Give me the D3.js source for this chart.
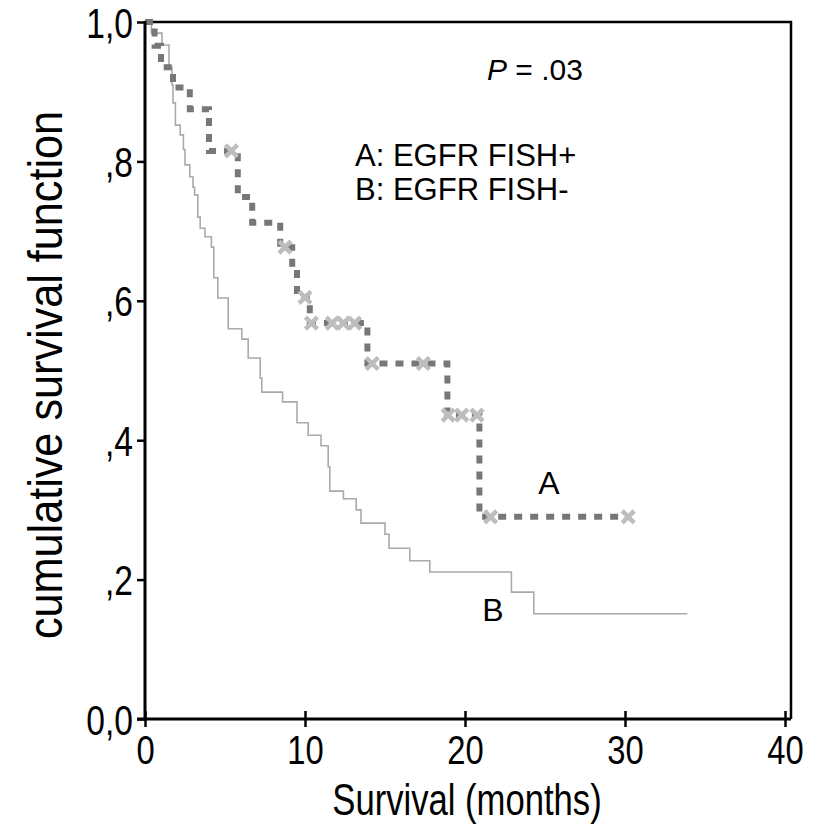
<!DOCTYPE html>
<html>
<head>
<meta charset="utf-8">
<script src="https://cdn.jsdelivr.net/npm/d3@7"></script>
<style>
  html, body { margin: 0; padding: 0; background: #fff; }
  svg { display: block; }
  text { font-family: "Liberation Sans", Arial, sans-serif; fill: #000; }
</style>
</head>
<body>
<svg id="chart" width="823" height="832"></svg>
<script>
// ---- data ----
const xTicks = [0, 10, 20, 30, 40];
const yTicks = [0, 0.2, 0.4, 0.6, 0.8, 1.0];
const yTickLabels = ["0,0", ",2", ",4", ",6", ",8", "1,0"];

// Group A: EGFR FISH+ (event times and survival after each step)
const timesA = [0, 0.6, 1.0, 1.75, 2.8, 4.0, 5.8, 6.7, 8.45, 9.2, 9.5, 10.3, 13.9, 18.9, 20.9, 30.2];
const survA  = [1.0, 0.966, 0.935, 0.906, 0.875, 0.815, 0.749, 0.712, 0.677, 0.645, 0.605, 0.568, 0.510, 0.436, 0.290, 0.290];
const censorA = [5.4, 8.75, 10.0, 10.4, 11.7, 12.4, 13.1, 14.2, 17.4, 18.95, 19.8, 20.75, 21.6, 30.2];

// Group B: EGFR FISH-
const timesB = [0, 0.4, 1.06, 1.5, 1.69, 1.75, 1.9, 2.2, 2.4, 2.5, 2.8, 3.0, 3.1, 3.3, 3.45, 3.75, 4.15, 4.3, 4.55, 5.2, 6.05, 6.45, 7.2, 7.3, 8.6, 9.5, 10.2, 11.0, 11.45, 11.55, 12.4, 13.2, 13.5, 15.0, 15.25, 16.55, 17.8, 22.9, 24.3, 33.9];
const survB  = [1.0, 0.984, 0.967, 0.935, 0.910, 0.884, 0.852, 0.838, 0.817, 0.795, 0.778, 0.763, 0.752, 0.720, 0.704, 0.692, 0.677, 0.633, 0.604, 0.560, 0.545, 0.518, 0.489, 0.469, 0.455, 0.425, 0.407, 0.392, 0.362, 0.327, 0.316, 0.300, 0.281, 0.265, 0.245, 0.227, 0.211, 0.182, 0.151, 0.151];

// ---- layout ----
const svg = d3.select("#chart");
const x = d3.scaleLinear().domain([0, 40]).range([145, 785]);
const y = d3.scaleLinear().domain([0, 1]).range([719, 22]);

// frame (top and right)
svg.append("path")
  .attr("d", `M${x(0)},${y(1)}H${x(40) + 6}V${y(0)}`)
  .attr("fill", "none").attr("stroke", "#000").attr("stroke-width", 2.5);

// ---- curves ----
const stepLine = d3.line().curve(d3.curveStepAfter)
  .x(d => x(d[0])).y(d => y(d[1]));

const dataB = timesB.map((t, i) => [t, survB[i]]);
const dataA = timesA.map((t, i) => [t, survA[i]]);

svg.append("path").datum(dataB)
  .attr("d", stepLine)
  .attr("fill", "none").attr("stroke", "#aaaaaa").attr("stroke-width", 1.6);

svg.append("path").datum(dataA)
  .attr("d", stepLine)
  .attr("fill", "none").attr("stroke", "#777777").attr("stroke-width", 6)
  .attr("stroke-dasharray", "8 8");

function survAt(times, surv, t) {
  let s = surv[0];
  for (let i = 0; i < times.length; i++) if (times[i] <= t) s = surv[i];
  return s;
}
const cs = 6;
svg.append("g").selectAll("path").data(censorA).join("path")
  .attr("transform", t => `translate(${x(t)},${y(survAt(timesA, survA, t))})`)
  .attr("d", `M${-cs},${-cs}L${cs},${cs}M${-cs},${cs}L${cs},${-cs}`)
  .attr("stroke", "#bdbdbd").attr("stroke-width", 4.5).attr("fill", "none");

// ---- axes ----
const xAxis = d3.axisBottom(x).tickValues(xTicks).tickSize(0).tickFormat(d3.format("d"));
const gx = svg.append("g").attr("transform", `translate(0,${y(0)})`).call(xAxis);
gx.select(".domain").attr("stroke", "#000").attr("stroke-width", 3)
  .attr("d", `M${x(0) - 8},0H${x(40) + 6}`);
gx.selectAll(".tick line").attr("y1", -8).attr("y2", 8).attr("stroke-width", 2.5);
gx.selectAll(".tick text")
  .attr("y", 0).attr("dy", 0)
  .attr("transform", "translate(0,45) scale(0.82,1)")
  .style("font-size", "40px");

const yAxis = d3.axisLeft(y).tickValues(yTicks).tickSize(0)
  .tickFormat((d, i) => yTickLabels[i]);
const gy = svg.append("g").attr("transform", `translate(${x(0)},0)`).call(yAxis);
gy.select(".domain").attr("stroke", "#000").attr("stroke-width", 3)
  .attr("d", `M0,${y(0)}V${y(1) - 1}`);
gy.selectAll(".tick line").attr("x1", -8).attr("x2", 0).attr("stroke-width", 2.5);
gy.selectAll(".tick text")
  .attr("x", 0).attr("dy", 0)
  .attr("transform", "translate(-12,15) scale(0.8,1)")
  .style("font-size", "42px");

// axis titles
svg.append("text")
  .attr("transform", "translate(467,815) scale(0.77,1)")
  .attr("text-anchor", "middle").style("font-size", "45px")
  .text("Survival (months)");
svg.append("text")
  .attr("transform", "translate(62,375) rotate(-90) scale(0.9,1)")
  .attr("text-anchor", "middle").style("font-size", "48px")
  .text("cumulative survival function");

// annotations
const pt = svg.append("text").attr("x", 487).attr("y", 80).style("font-size", "30px");
pt.append("tspan").style("font-style", "italic").text("P");
pt.append("tspan").text(" = .03");
svg.append("text").attr("x", 355).attr("y", 166).style("font-size", "31px").text("A: EGFR FISH+");
svg.append("text").attr("x", 355).attr("y", 200).style("font-size", "31px").text("B: EGFR FISH-");
svg.append("text").attr("x", 549).attr("y", 494).attr("text-anchor", "middle").style("font-size", "32px").text("A");
svg.append("text").attr("x", 493).attr("y", 621).attr("text-anchor", "middle").style("font-size", "32px").text("B");
</script>
</body>
</html>
